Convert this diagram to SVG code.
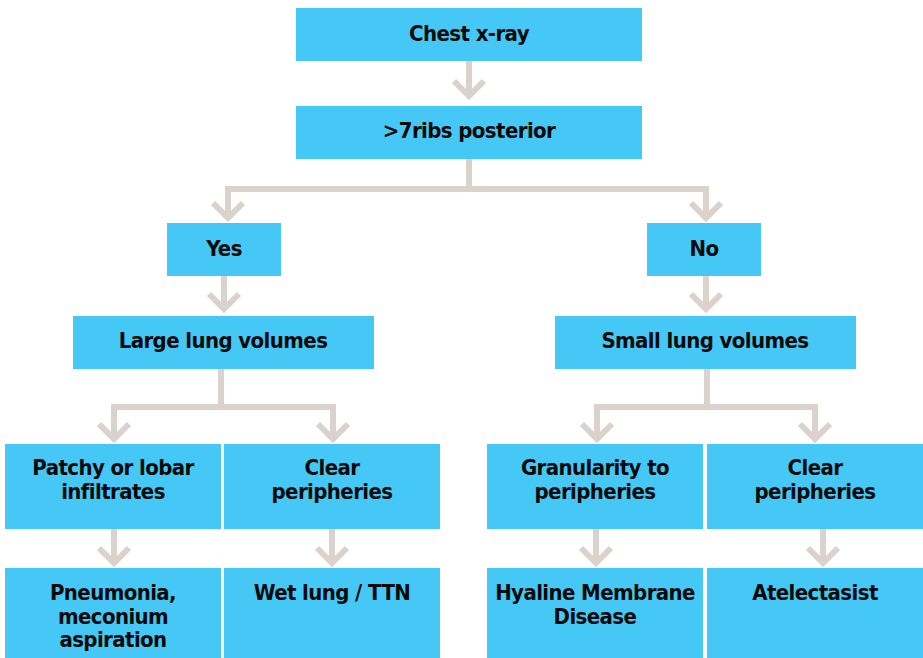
<svg xmlns="http://www.w3.org/2000/svg" width="923" height="658" viewBox="0 0 923 658">
<style>
.box{fill:#45C8F5}
.t{font-family:"Liberation Sans Narrow","DejaVu Sans Condensed","Liberation Sans",sans-serif;font-weight:bold;font-size:22px;letter-spacing:-0.6px;fill:#0a0a0a;text-anchor:middle}
.c{fill:none;stroke:#DAD2CB;stroke-width:6;stroke-linejoin:miter}
</style>
<defs>
<marker id="ah" markerUnits="userSpaceOnUse" markerWidth="40" markerHeight="40" refX="0" refY="0" orient="auto" overflow="visible">
<path d="M-15,-15 L0,0 L-15,15" fill="none" stroke="#DAD2CB" stroke-width="6"/>
</marker>
</defs>
<rect width="923" height="658" fill="#fff"/>
<g id="connectors">
<path class="c" d="M469,61 V96" marker-end="url(#ah)"/>
<path class="c" d="M469,159 V189 H228 V218" marker-end="url(#ah)"/>
<path class="c" d="M469,189 H706 V218" marker-end="url(#ah)"/>
<path class="c" d="M224,276 V309" marker-end="url(#ah)"/>
<path class="c" d="M706,276 V309" marker-end="url(#ah)"/>
<path class="c" d="M221,368 V407 H114 V439" marker-end="url(#ah)"/>
<path class="c" d="M221,407 H333 V439" marker-end="url(#ah)"/>
<path class="c" d="M707,368 V407 H597 V439" marker-end="url(#ah)"/>
<path class="c" d="M707,407 H815 V439" marker-end="url(#ah)"/>
<path class="c" d="M114,529 V563" marker-end="url(#ah)"/>
<path class="c" d="M332,529 V563" marker-end="url(#ah)"/>
<path class="c" d="M596,529 V563" marker-end="url(#ah)"/>
<path class="c" d="M823,529 V563" marker-end="url(#ah)"/>
</g>
<g id="chest"><rect class="box" x="296" y="8" width="346" height="53"/><text class="t" x="469" y="41">Chest x-ray</text></g>
<g id="ribs"><rect class="box" x="296" y="106" width="346" height="53"/><text class="t" x="469" y="138">&gt;7ribs posterior</text></g>
<g id="yes"><rect class="box" x="167" y="223" width="114" height="53"/><text class="t" x="224" y="256">Yes</text></g>
<g id="no"><rect class="box" x="647" y="223" width="114" height="53"/><text class="t" x="704" y="256">No</text></g>
<g id="large"><rect class="box" x="73" y="316" width="301" height="53"/><text class="t" x="223" y="348">Large lung volumes</text></g>
<g id="small"><rect class="box" x="555" y="316" width="301" height="53"/><text class="t" x="705" y="348">Small lung volumes</text></g>
<g id="patchy"><rect class="box" x="5" y="444" width="216" height="85"/><text class="t" x="113" y="475">Patchy or lobar</text><text class="t" x="113" y="499">infiltrates</text></g>
<g id="clear1"><rect class="box" x="224" y="444" width="216" height="85"/><text class="t" x="332" y="475">Clear</text><text class="t" x="332" y="499">peripheries</text></g>
<g id="gran"><rect class="box" x="487" y="444" width="216" height="85"/><text class="t" x="595" y="475">Granularity to</text><text class="t" x="595" y="499">peripheries</text></g>
<g id="clear2"><rect class="box" x="707" y="444" width="216" height="85"/><text class="t" x="815" y="475">Clear</text><text class="t" x="815" y="499">peripheries</text></g>
<g id="pneu"><rect class="box" x="5" y="568" width="216" height="90"/><text class="t" x="113" y="600">Pneumonia,</text><text class="t" x="113" y="624">meconium</text><text class="t" x="113" y="647">aspiration</text></g>
<g id="wet"><rect class="box" x="224" y="568" width="216" height="90"/><text class="t" x="332" y="600">Wet lung / TTN</text></g>
<g id="hmd"><rect class="box" x="487" y="568" width="216" height="90"/><text class="t" x="595" y="600">Hyaline Membrane</text><text class="t" x="595" y="624">Disease</text></g>
<g id="atel"><rect class="box" x="707" y="568" width="216" height="90"/><text class="t" x="815" y="600">Atelectasist</text></g>
</svg>
